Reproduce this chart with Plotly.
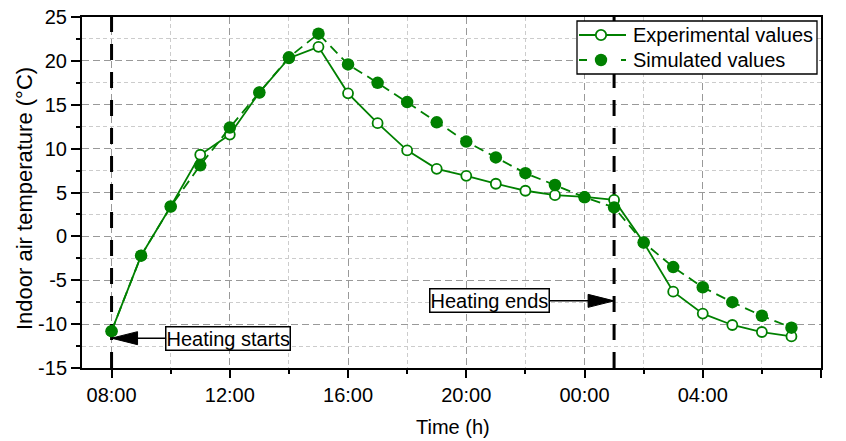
import plotly.graph_objects as go

# ---- data ----
hours = list(range(8, 32))  # 08:00 (day 1) ... 07:00 (day 2)
experimental = [-10.8, -2.2, 3.4, 9.3, 11.6, 16.4, 20.3, 21.6, 16.3, 12.9, 9.8, 7.7,
                6.9, 6.0, 5.2, 4.7, 4.5, 4.15, -0.7, -6.3, -8.8, -10.1, -10.9, -11.4]
simulated = [-10.8, -2.2, 3.4, 8.1, 12.4, 16.4, 20.4, 23.1, 19.6, 17.5, 15.3, 13.0,
             10.8, 9.0, 7.2, 5.85, 4.45, 3.3, -0.7, -3.5, -5.8, -7.5, -9.05, -10.4]
series_names = ["Experimental values", "Simulated values"]

x_tickvals = [8, 12, 16, 20, 24, 28, 32]
x_ticktext = ["08:00", "12:00", "16:00", "20:00", "00:00", "04:00", "08:00"]
x_minor = [10, 14, 18, 22, 26, 30]
y_tickvals = [-15, -10, -5, 0, 5, 10, 15, 20, 25]
y_ticktext = ["-15", "-10", "-5", "0", "5", "10", "15", "20", "25"]
y_minor = [-12.5, -7.5, -2.5, 2.5, 7.5, 12.5, 17.5, 22.5]

heating_start = 8    # 08:00
heating_end = 25     # 01:00
label_texts = ["Heating starts", "Heating ends"]
label_tips = [(heating_start, -11.6), (heating_end, -7.35)]
label_centers = [(11.95, -11.6), (20.77, -7.35)]

X_RANGE = [7, 32]
Y_RANGE = [-15, 25]
GREEN = "#008000"
FONT = "Liberation Sans, Arial, sans-serif"

W, H = 846, 441
ML, MR, MT, MB = 82, 25, 17, 73
plot_w = W - ML - MR
plot_h = H - MT - MB


def px(xp):
    return (xp - ML) / plot_w


def py(yp):
    return 1 - (yp - MT) / plot_h


fig = go.Figure()

# vertical heating markers (drawn first, beneath the series)
for xv in (heating_start, heating_end):
    fig.add_trace(go.Scatter(x=[xv, xv], y=Y_RANGE, mode="lines", showlegend=False,
                             hoverinfo="skip",
                             line=dict(color="black", width=3, dash="16px,12px")))

fig.add_trace(go.Scatter(
    x=hours, y=experimental, name=series_names[0], mode="lines+markers", showlegend=False,
    line=dict(color=GREEN, width=1.8),
    marker=dict(symbol="circle", size=10, color="white", line=dict(color=GREEN, width=1.8)),
))
fig.add_trace(go.Scatter(
    x=hours, y=simulated, name=series_names[1], mode="lines+markers", showlegend=False,
    line=dict(color=GREEN, width=1.8, dash="10px,6px"),
    marker=dict(symbol="circle", size=12.5, color=GREEN, line=dict(width=0)),
))

# annotation boxes with arrows
hx = (X_RANGE[1] - X_RANGE[0]) / plot_w
hy = (Y_RANGE[1] - Y_RANGE[0]) / plot_h
head_len, head_half = 26, 6.5
for text, (tx, ty), (cx, cy) in zip(label_texts, label_tips, label_centers):
    fig.add_annotation(x=tx, y=ty, xref="x", yref="y", ax=cx, ay=cy, axref="x", ayref="y",
                       text=text, showarrow=True, arrowhead=0, arrowwidth=1.5,
                       arrowcolor="black", standoff=0,
                       font=dict(family=FONT, size=20, color="black"),
                       bgcolor="white", bordercolor="black", borderwidth=1.5, borderpad=0)
    direction = 1 if cx > tx else -1
    bx = tx + direction * head_len * hx
    path = f"M {tx},{ty} L {bx},{ty + head_half * hy} L {bx},{ty - head_half * hy} Z"
    fig.add_shape(type="path", path=path, xref="x", yref="y",
                  fillcolor="black", line=dict(color="black", width=1), layer="above")

# ---- legend (box, samples, labels) ----
fig.add_shape(type="rect", xref="paper", yref="paper",
              x0=px(577), x1=px(817), y0=py(74), y1=py(21),
              fillcolor="white", line=dict(color="black", width=1.3), layer="above")
rows = [35, 60]
dashes = ["solid", "8px,34px"]
for i, (ry, dsh) in enumerate(zip(rows, dashes)):
    fig.add_shape(type="line", xref="paper", yref="paper",
                  x0=px(579), x1=px(626), y0=py(ry), y1=py(ry),
                  line=dict(color=GREEN, width=1.8, dash=dsh), layer="above")
    r = 5.2 if i == 0 else 6.2
    fig.add_shape(type="circle", xref="paper", yref="paper",
                  xsizemode="pixel", ysizemode="pixel",
                  xanchor=px(601), yanchor=py(ry), x0=-r, x1=r, y0=-r, y1=r,
                  fillcolor="white" if i == 0 else GREEN,
                  line=dict(color=GREEN, width=1.8 if i == 0 else 0), layer="above")
    fig.add_annotation(xref="paper", yref="paper", x=px(631), y=py(ry),
                       xanchor="left", yanchor="middle", showarrow=False,
                       text=series_names[i], font=dict(family=FONT, size=20, color="black"))

# axis titles as positioned annotations
fig.add_annotation(xref="paper", yref="paper", x=px(24), y=py(199),
                   xanchor="center", yanchor="middle", showarrow=False, textangle=-90,
                   text="Indoor air temperature (°C)",
                   font=dict(family=FONT, size=22, color="black"))
fig.add_annotation(xref="paper", yref="paper", x=px(453.5), y=py(426.5),
                   xanchor="center", yanchor="middle", showarrow=False,
                   text="Time (h)",
                   font=dict(family=FONT, size=20, color="black"))

grid_major = dict(showgrid=True, gridcolor="#999999", gridwidth=1, griddash="7px,4px")

fig.update_xaxes(
    range=X_RANGE, tickvals=x_tickvals, ticktext=x_ticktext, automargin=False,
    ticks="outside", ticklen=8, tickwidth=1.5, tickcolor="black",
    showline=True, linewidth=2, linecolor="black", mirror=True, zeroline=False,
    minor=dict(tickvals=x_minor, ticks="outside", ticklen=4, tickwidth=1.5, tickcolor="black",
               showgrid=True, gridcolor="#cccccc", gridwidth=1, griddash="4px,3px"),
    tickfont=dict(size=20),
    **grid_major,
)
fig.update_yaxes(
    range=Y_RANGE, tickvals=y_tickvals, ticktext=y_ticktext, automargin=False,
    ticks="outside", ticklen=9, tickwidth=1.5, tickcolor="black",
    showline=True, linewidth=2, linecolor="black", mirror=True, zeroline=False,
    minor=dict(tickvals=y_minor, ticks="outside", ticklen=4, tickwidth=1.5, tickcolor="black",
               showgrid=True, gridcolor="#cccccc", gridwidth=1, griddash="4px,3px"),
    tickfont=dict(size=20),
    **grid_major,
)

fig.update_layout(
    width=W, height=H,
    margin=dict(l=ML, r=MR, t=MT, b=MB, autoexpand=False),
    plot_bgcolor="white", paper_bgcolor="white",
    font=dict(family=FONT, size=20, color="black"),
    showlegend=False,
)

fig.write_html("out.html")
